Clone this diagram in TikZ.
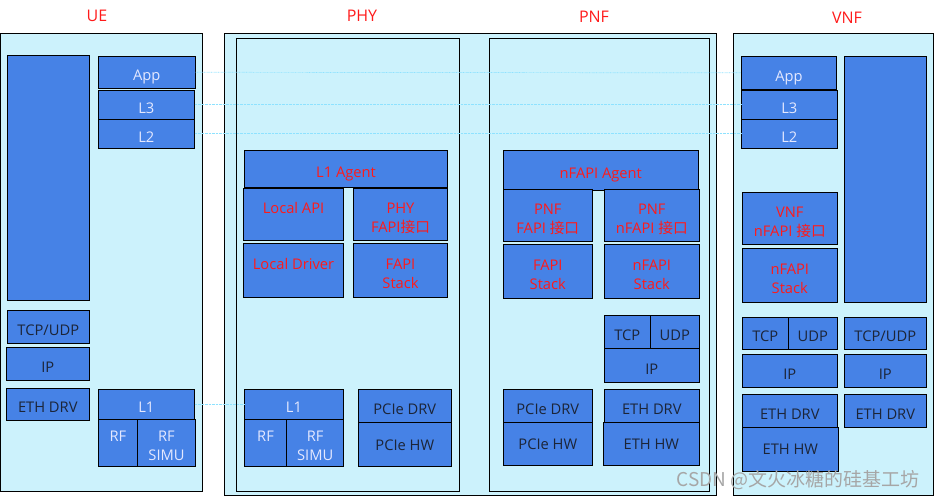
\documentclass[tikz,border=0pt]{standalone}
\usepackage{fontspec}
\setmainfont{Open Sans}
\newfontfamily\cjk{Noto Sans CJK SC}
\usetikzlibrary{positioning}

\definecolor{bgcyan}{HTML}{CCF2FC}
\definecolor{blkblue}{HTML}{4682E6}
\definecolor{txtred}{HTML}{FF1A1A}
\definecolor{txtlight}{HTML}{E4E8FF}
\definecolor{txtdark}{HTML}{1C2538}
\definecolor{dotcyan}{HTML}{8EE2FF}

\begin{document}
\begin{tikzpicture}[
  x=1pt, y=-1pt,
  frame/.style={draw=black, fill=bgcyan, line width=0.8pt, inner sep=0pt},
  blk/.style={draw=black, fill=blkblue, line width=0.8pt, inner sep=0pt,
              align=center, font=\fontsize{14.7}{19}\selectfont,
              execute at begin node={\rule[-3pt]{0pt}{23pt}}},
  twoline/.style={execute at begin node={}, text height=39pt, text depth=3pt},
  lt/.style={blk, text=txtlight},
  rt/.style={blk, text=txtred},
  dk/.style={blk, text=txtdark},
  hw/.style={dk, execute at begin node={\rule[-9pt]{0pt}{23pt}}},
  title/.style={text=txtred, font=\fontsize{16}{19}\selectfont},
  link/.style={dotcyan, line width=0.7pt, dash pattern=on 0.7pt off 0.7pt},
]
  \useasboundingbox (0,0) rectangle (934,497);

  % ═══ Frames ═══════════════════════════════════════════════
  \node[frame, minimum width=202pt, minimum height=458pt] (ue_frame)  at (101.5,262)   {};
  \node[frame, minimum width=492pt, minimum height=462pt] (phy_frame) at (470.3,264.5) {};
  \node[frame, minimum width=223pt, minimum height=452.7pt] (phy_inner) at (347.8,264.7) {};
  \node[frame, minimum width=220pt, minimum height=452.7pt] (pnf_inner) at (599.3,264.7) {};
  \node[frame, minimum width=200pt, minimum height=462pt] (vnf_frame) at (833.5,264.5) {};

  % Titles
  \node[title] (ue_title)  at (97,16)  {UE};
  \node[title] (phy_title) at (362,16) {PHY};
  \node[title] (pnf_title) at (594,17) {PNF};
  \node[title] (vnf_title) at (847,18) {VNF};

  % ═══ UE ═══════════════════════════════════════════════════
  \node[blk, minimum width=82pt, minimum height=245pt] (ue_side) at (48.3,177.7) {};
  \node[lt, minimum width=97pt, minimum height=32pt] (ue_app) at (146.8,72.3)  {App};
  \node[lt, minimum width=96pt, minimum height=29pt] (ue_l3)  at (146.3,104.8) {L3};
  \node[lt, minimum width=96pt, minimum height=29pt] (ue_l2)  at (146.3,133.8) {L2};
  \node[dk, minimum width=82pt, minimum height=33pt] (ue_tcpudp) at (48.3,326.8) {TCP/UDP};
  \node[dk, minimum width=83pt, minimum height=32.7pt] (ue_ip)   at (47.8,363.7) {IP};
  \node[dk, minimum width=83pt, minimum height=32pt] (ue_ethdrv) at (47.8,404.3) {ETH DRV};
  \node[lt, minimum width=96pt, minimum height=30pt] (ue_l1) at (146.3,404.3) {L1};
  \node[lt, twoline, minimum width=39.4pt, minimum height=46.7pt] (ue_rf)     at (118,442.7)   {RF\\\mbox{}};
  \node[lt, twoline, minimum width=57.6pt, minimum height=46.7pt] (ue_rfsimu) at (166.5,442.7) {RF\\SIMU};

  % ═══ PHY ══════════════════════════════════════════════════
  \node[rt, minimum width=203.4pt, minimum height=37pt] (phy_agent) at (346,168.8) {L1 Agent};
  \node[rt, twoline, minimum width=100.4pt, minimum height=51.7pt] (phy_api)  at (293.5,214.2) {Local API\\\mbox{}};
  \node[rt, twoline, minimum width=94.4pt, minimum height=51.7pt]  (phy_fapi) at (400.5,214.2) {PHY\\FAPI{\cjk 接口}};
  \node[rt, twoline, minimum width=100.4pt, minimum height=54pt] (phy_drv)   at (293.5,270.3) {Local Driver\\\mbox{}};
  \node[rt, twoline, minimum width=94.4pt, minimum height=54pt]  (phy_stack) at (400.5,270.3) {FAPI\\Stack};
  \node[lt, minimum width=99.4pt, minimum height=30pt] (phy_l1) at (294,404.3) {L1};
  \node[lt, twoline, minimum width=42.4pt, minimum height=47pt] (phy_rf)     at (265.5,442.8) {RF\\\mbox{}};
  \node[lt, twoline, minimum width=57pt, minimum height=47pt]   (phy_rfsimu) at (315.2,442.8) {RF\\SIMU};
  \node[dk, minimum width=93pt, minimum height=33.4pt] (phy_pciedrv) at (404.8,406)   {PCIe DRV};
  \node[hw, minimum width=93pt, minimum height=43.6pt] (phy_pciehw)  at (404.8,444.5) {PCIe HW};

  % ═══ PNF ══════════════════════════════════════════════════
  \node[rt, minimum width=195pt, minimum height=39.7pt] (pnf_agent) at (600.8,170.2) {nFAPI Agent};
  \node[rt, twoline, minimum width=89pt, minimum height=52pt] (pnf_fapi)  at (547.8,215.3) {PNF\\FAPI {\cjk 接口}};
  \node[rt, twoline, minimum width=95pt, minimum height=52pt] (pnf_nfapi) at (651.8,215.3) {PNF\\nFAPI {\cjk 接口}};
  \node[rt, twoline, minimum width=89pt, minimum height=54pt] (pnf_fstack)  at (547.8,271.3) {FAPI\\Stack};
  \node[rt, twoline, minimum width=95pt, minimum height=54pt] (pnf_nfstack) at (651.8,271.3) {nFAPI\\Stack};
  \node[dk, minimum width=46pt, minimum height=33.4pt] (pnf_tcp) at (627.3,332) {TCP};
  \node[dk, minimum width=49pt, minimum height=33.4pt] (pnf_udp) at (674.8,332) {UDP};
  \node[dk, minimum width=95pt, minimum height=33.6pt] (pnf_ip)  at (651.8,365.5) {IP};
  \node[dk, minimum width=89pt, minimum height=33.4pt] (pnf_pciedrv) at (547.8,406) {PCIe DRV};
  \node[hw, minimum width=89pt, minimum height=42.6pt] (pnf_pciehw)  at (547.8,444) {PCIe HW};
  \node[dk, minimum width=95pt, minimum height=33.4pt] (pnf_ethdrv)  at (651.8,406) {ETH DRV};
  \node[hw, minimum width=96pt, minimum height=42.6pt] (pnf_ethhw)   at (651.3,444) {ETH HW};

  % ═══ VNF ══════════════════════════════════════════════════
  \node[lt, minimum width=95.4pt, minimum height=33pt] (vnf_app) at (789,72.8)    {App};
  \node[lt, minimum width=96pt, minimum height=29pt]   (vnf_l3)  at (789.3,104.8) {L3};
  \node[lt, minimum width=96pt, minimum height=29pt]   (vnf_l2)  at (789.3,133.8) {L2};
  \node[blk, minimum width=82pt, minimum height=246pt] (vnf_side) at (885.3,179.3) {};
  \node[rt, twoline, minimum width=95pt, minimum height=52pt] (vnf_nfapi)   at (789.8,218.3) {VNF\\nFAPI {\cjk 接口}};
  \node[rt, twoline, minimum width=95pt, minimum height=54pt] (vnf_nfstack) at (789.8,275.3) {nFAPI\\Stack};
  \node[dk, minimum width=46pt, minimum height=32pt] (vnf_tcp) at (765.3,333.3) {TCP};
  \node[dk, minimum width=49pt, minimum height=32pt] (vnf_udp) at (812.8,333.3) {UDP};
  \node[dk, minimum width=95pt, minimum height=33pt] (vnf_ip)  at (789.8,370.8) {IP};
  \node[dk, minimum width=95pt, minimum height=32.7pt] (vnf_ethdrv) at (789.8,410.7) {ETH DRV};
  \node[hw, minimum width=96pt, minimum height=44pt]   (vnf_ethhw)  at (790.3,449)   {ETH HW};
  \node[dk, minimum width=82pt, minimum height=32pt]   (vnf_tcpudp) at (885.3,333.3) {TCP/UDP};
  \node[dk, minimum width=82pt, minimum height=33pt]   (vnf_ip2)    at (885.3,370.8) {IP};
  \node[dk, minimum width=82pt, minimum height=32.7pt] (vnf_ethdrv2) at (885.3,410.7) {ETH DRV};

  % ═══ Peer links ═══════════════════════════════════════════
  \draw[link] (ue_app.east) -- (vnf_app.west);
  \draw[link] (ue_l3.east)  -- (vnf_l3.west);
  \draw[link] (ue_l2.east)  -- (vnf_l2.west);
  \draw[link] (ue_l1.east)  -- (phy_l1.west);

  % Watermark
  \node[text=black!35, font=\fontsize{19}{22}\cjk] (wm) at (798,480) {CSDN @文火冰糖的硅基工坊};
\end{tikzpicture}
\end{document}
